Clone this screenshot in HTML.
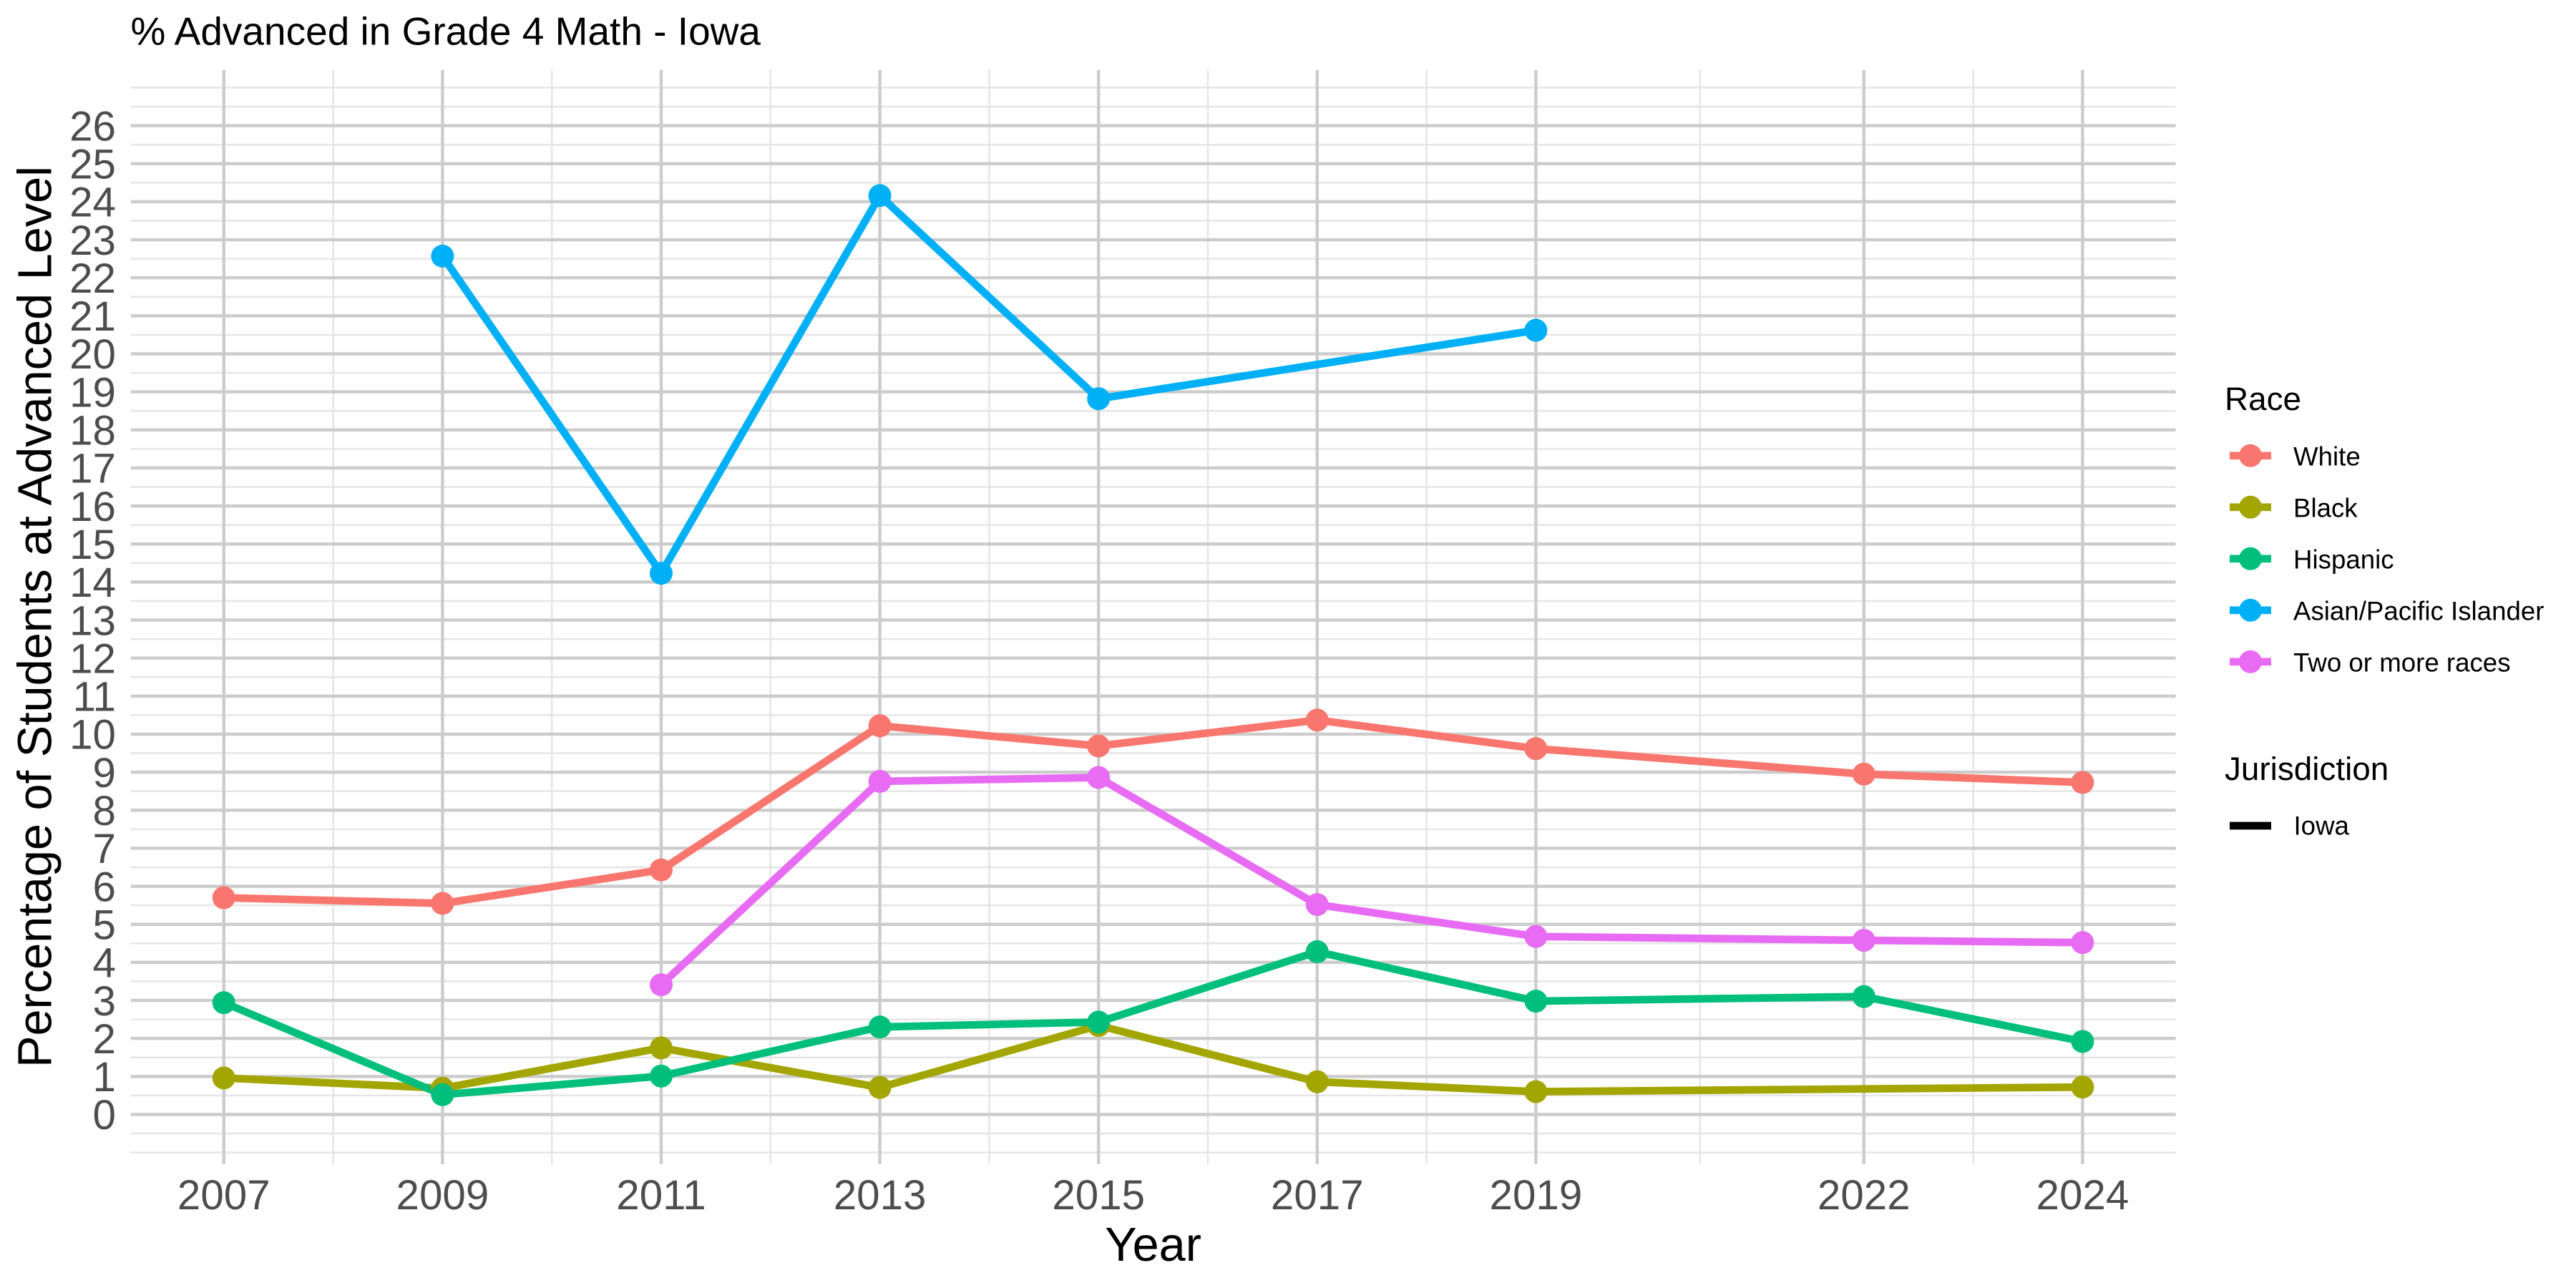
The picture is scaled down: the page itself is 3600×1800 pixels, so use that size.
<!DOCTYPE html>
<html lang="en">
<head>
<meta charset="utf-8">
<title>% Advanced in Grade 4 Math - Iowa</title>
<style>
  html, body { margin: 0; padding: 0; background: #ffffff; }
  svg { display: block; }
  text { font-family: "Liberation Sans", Arial, Helvetica, sans-serif; }
</style>
</head>
<body>
<svg id="chart" xmlns="http://www.w3.org/2000/svg" width="3600" height="1800" viewBox="0 0 3600 1800">
  <rect x="0" y="0" width="3600" height="1800" fill="#ffffff"/>
  <g id="grid"></g>
  <g id="lines"></g>
  <g id="points"></g>
  <g id="x-axis"></g>
  <g id="y-axis"></g>
  <text x="182.5" y="62.5" font-size="55" fill="#000000">% Advanced in Grade 4 Math - Iowa</text>
  <text x="1611.6" y="1762" font-size="66.67" fill="#000000" text-anchor="middle">Year</text>
  <text transform="translate(71.5 862) rotate(-90)" font-size="66.67" fill="#000000" text-anchor="middle">Percentage of Students at Advanced Level</text>
  <g id="legend-race">
    <text x="3109" y="573" font-size="45.83" fill="#000000">Race</text>
  </g>
  <g id="legend-jurisdiction">
    <text x="3109" y="1090" font-size="45.83" fill="#000000">Jurisdiction</text>
    <line x1="3116" x2="3174" y1="1154" y2="1154" stroke="#000000" stroke-width="10.67"/>
    <text x="3205.5" y="1166.5" font-size="36.67" fill="#000000">Iowa</text>
  </g>
</svg>
<script>
const years = [2007, 2009, 2011, 2013, 2015, 2017, 2019, 2022, 2024];
const whiteValues = [5.70, 5.55, 6.43, 10.22, 9.69, 10.37, 9.62, 8.95, 8.73];
const blackValues = [0.96, 0.69, 1.75, 0.71, 2.34, 0.86, 0.60, null, 0.72];
const hispanicValues = [2.94, 0.52, 1.01, 2.30, 2.43, 4.28, 2.98, 3.10, 1.92];
const asianValues = [null, 22.57, 14.23, 24.16, 18.82, null, 20.62, null, null];
const twoOrMoreValues = [null, null, 3.41, 8.76, 8.86, 5.52, 4.68, 4.58, 4.52];
const seriesNames = ["White", "Black", "Hispanic", "Asian/Pacific Islander", "Two or more races"];
const seriesColors = ["#F8766D", "#A3A500", "#00BF7D", "#00B0F6", "#E76BF3"];
const seriesValues = [whiteValues, blackValues, hispanicValues, asianValues, twoOrMoreValues];
const xTickLabels = ["2007", "2009", "2011", "2013", "2015", "2017", "2019", "2022", "2024"];
const xMinorBreaks = [2008, 2010, 2012, 2014, 2016, 2018, 2020.5, 2023];
const yTickLabels = ["0","1","2","3","4","5","6","7","8","9","10","11","12","13","14","15","16","17","18","19","20","21","22","23","24","25","26"];
const yMinorBreaks = [-1, -0.5, 0.5, 1.5, 2.5, 3.5, 4.5, 5.5, 6.5, 7.5, 8.5, 9.5, 10.5, 11.5, 12.5, 13.5, 14.5, 15.5, 16.5, 17.5, 18.5, 19.5, 20.5, 21.5, 22.5, 23.5, 24.5, 25.5, 26.5, 27];

const SVG_NS = "http://www.w3.org/2000/svg";
const panelLeft = 182.7, panelRight = 3040.6, panelTop = 97.7, panelBottom = 1627;
function xScale(year) { return 312.8 + (year - 2007) * 152.8; }
function yScale(value) { return 1557.5 - value * 53.15; }
function make(tag, attrs, parent) {
  const node = document.createElementNS(SVG_NS, tag);
  for (const key in attrs) node.setAttribute(key, attrs[key]);
  parent.appendChild(node);
  return node;
}

const gridGroup = document.getElementById("grid");
yMinorBreaks.forEach(function (v) {
  const el = make("line", { x1: panelLeft, x2: panelRight, y1: yScale(v), y2: yScale(v), stroke: "#E6E6E6", "stroke-width": 2.6 }, gridGroup);
  
  
});
xMinorBreaks.forEach(function (yr) {
  const el = make("line", { x1: xScale(yr), x2: xScale(yr), y1: panelTop, y2: panelBottom, stroke: "#E6E6E6", "stroke-width": 2.6 }, gridGroup);
  
  
});
yTickLabels.forEach(function (label) {
  const v = Number(label);
  const el = make("line", { x1: panelLeft, x2: panelRight, y1: yScale(v), y2: yScale(v), stroke: "#CCCCCC", "stroke-width": 4.45 }, gridGroup);
  
  
});
years.forEach(function (yr) {
  const el = make("line", { x1: xScale(yr), x2: xScale(yr), y1: panelTop, y2: panelBottom, stroke: "#CCCCCC", "stroke-width": 4.45 }, gridGroup);
  
  
});

const xAxisGroup = document.getElementById("x-axis");
xTickLabels.forEach(function (label, i) {
  const el = make("text", { x: xScale(years[i]), y: 1690, "font-size": 58.33, fill: "#4D4D4D", "text-anchor": "middle" }, xAxisGroup);
  
  
  el.textContent = label;
});

const yAxisGroup = document.getElementById("y-axis");
yTickLabels.forEach(function (label) {
  const el = make("text", { x: 162, y: yScale(Number(label)) + 20.7, "font-size": 58.33, fill: "#4D4D4D", "text-anchor": "end" }, yAxisGroup);
  
  
  el.textContent = label;
});

const linesGroup = document.getElementById("lines");
const pointsGroup = document.getElementById("points");
seriesValues.forEach(function (values, s) {
  const coords = [];
  values.forEach(function (v, i) {
    if (v !== null) coords.push(xScale(years[i]).toFixed(2) + "," + yScale(v).toFixed(2));
  });
  const path = make("polyline", { points: coords.join(" "), fill: "none", stroke: seriesColors[s], "stroke-width": 10.67, "stroke-linejoin": "round", "stroke-linecap": "butt" }, linesGroup);
  
  
});
seriesValues.forEach(function (values, s) {
  values.forEach(function (v, i) {
    if (v === null) return;
    const dot = make("circle", { cx: xScale(years[i]), cy: yScale(v), r: 16, fill: seriesColors[s] }, pointsGroup);
    
    
  });
});

const raceLegend = document.getElementById("legend-race");
seriesNames.forEach(function (name, s) {
  const rowY = 636.8 + s * 72;
  const key = make("line", { x1: 3116, x2: 3174, y1: rowY, y2: rowY, stroke: seriesColors[s], "stroke-width": 10.67 }, raceLegend);
  
  
  const dot = make("circle", { cx: 3145, cy: rowY, r: 16, fill: seriesColors[s] }, raceLegend);
  
  
  const label = make("text", { x: 3205, y: rowY + 13.5, "font-size": 36.67, fill: "#000000" }, raceLegend);
  
  
  label.textContent = name;
});
</script>
</body>
</html>
